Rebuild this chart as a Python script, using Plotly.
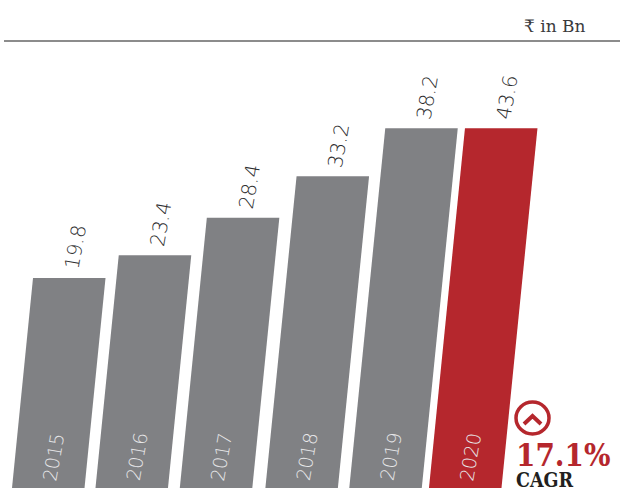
import plotly.graph_objects as go

years = ["2015", "2016", "2017", "2018", "2019", "2020"]
values = ["19.8", "23.4", "28.4", "33.2", "38.2", "43.6"]
# Bars in the reference are not to scale; these are the drawn heights in value units
drawn_heights = [22.3, 24.7, 28.7, 33.1, 38.2, 38.2]
slots = [0.0, 0.995, 2.0, 3.02, 4.02, 4.97]
colors = ["#808184"] * 5 + ["#B5272D"]
cagr_value = "17.1%"
cagr_label = "CAGR"
unit_label = "₹ in Bn"

W, H = 620, 493
PITCH = 83.9      # px per slot
SCALE = 9.42      # px per value unit
LEFT = 12.0
BASE = 488.0
BAR_W = 72.5 / PITCH
SLANT = 0.1 * SCALE / PITCH

fig = go.Figure()
ann = []
for year, val, h, s, c in zip(years, values, drawn_heights, slots, colors):
    shift = h * SLANT
    fig.add_trace(go.Scatter(
        x=[s, s + BAR_W, s + BAR_W + shift, s + shift, s],
        y=[0, 0, h, h, 0],
        mode="lines", fill="toself", fillcolor=c,
        line=dict(width=0, color=c), hoverinfo="skip", showlegend=False,
    ))
    ann.append(dict(x=s + shift + BAR_W / 2, y=h, xref="x", yref="y", text=val,
                    showarrow=False, textangle=-80, xshift=6, yshift=31,
                    font=dict(family="DejaVu Sans", size=20, color="#2e2e30", weight=200)))
    ann.append(dict(x=s + BAR_W / 2, y=0, xref="x", yref="y", text=year,
                    showarrow=False, textangle=-80, xshift=5, yshift=31,
                    font=dict(family="DejaVu Sans", size=19, color="#e8e8ea", weight=200)))

def paper(px, py):
    return px / W, 1 - py / H

ux, uy = paper(588, 26)
ann.append(dict(x=ux, y=uy, xref="paper", yref="paper", xanchor="right", yanchor="middle",
                text=unit_label, showarrow=False,
                font=dict(family="DejaVu Serif", size=17, color="#3a3a3c", weight=300)))
vx, vy = paper(514, 455)
ann.append(dict(x=vx, y=vy, xref="paper", yref="paper", xanchor="left", yanchor="middle",
                text=f"<b>{cagr_value}</b>", showarrow=False,
                font=dict(family="DejaVu Serif Condensed", size=31, color="#B5272D")))
lx, ly = paper(514, 480)
ann.append(dict(x=lx, y=ly, xref="paper", yref="paper", xanchor="left", yanchor="middle",
                text=f"<b>{cagr_label}</b>", showarrow=False,
                font=dict(family="DejaVu Serif Condensed", size=19.5, color="#231F20")))

shapes = [
    dict(type="line", xref="paper", yref="paper", x0=4 / W, x1=1, y0=1 - 41 / H, y1=1 - 41 / H,
         line=dict(color="#666666", width=1.3)),
    dict(type="circle", xref="paper", yref="paper",
         x0=516 / W, x1=549 / W, y0=1 - 434 / H, y1=1 - 402 / H,
         line=dict(color="#B5272D", width=3.5)),
    dict(type="path", xref="paper", yref="paper",
         path=f"M {524/W} {1-424/H} L {532.5/W} {1-416/H} L {541/W} {1-424/H}",
         line=dict(color="#B5272D", width=4)),
]

x0 = -LEFT / PITCH
y0 = -(H - BASE) / SCALE
fig.update_layout(
    width=W, height=H, autosize=False,
    margin=dict(l=0, r=0, t=0, b=0),
    paper_bgcolor="white", plot_bgcolor="white",
    xaxis=dict(range=[x0, x0 + W / PITCH], visible=False, fixedrange=True),
    yaxis=dict(range=[y0, y0 + H / SCALE], visible=False, fixedrange=True),
    annotations=ann, shapes=shapes, showlegend=False,
)
fig.write_html("out.html", config=dict(displayModeBar=False),
               post_script="document.body.style.margin='0';")
